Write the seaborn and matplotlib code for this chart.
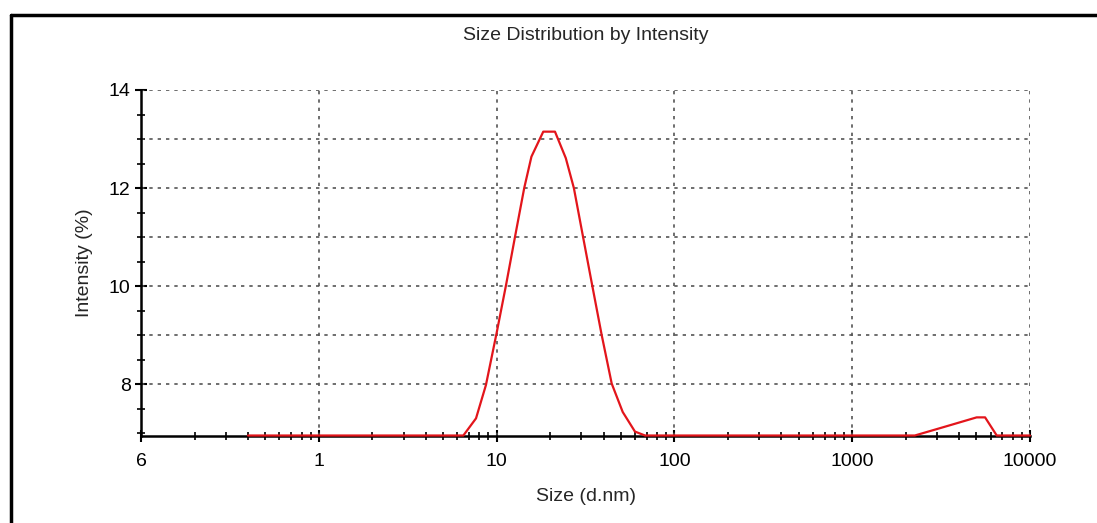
import numpy as np
import pandas as pd
import matplotlib
matplotlib.use('Agg')
import matplotlib.pyplot as plt
import seaborn as sns
from matplotlib.ticker import LogLocator, FixedLocator, MultipleLocator, FixedFormatter
from matplotlib.lines import Line2D

# valori (marimea in d.nm, intensitatea in %)
size_nm = [0.4, 6.5, 7.66, 8.71, 10.0, 11.3, 12.7, 14.3, 15.7, 18.3, 21.3, 24.5, 27.2,
           30.5, 34.3, 39.0, 44.4, 51.2, 60.0, 68.4, 2250, 3550, 5010, 5590, 6500, 10000]
intensity = [6.95, 6.95, 7.30, 7.98, 9.04, 10.02, 11.01, 12.0, 12.64, 13.15, 13.15, 12.61, 12.0,
             11.04, 10.06, 9.0, 8.01, 7.43, 7.03, 6.95, 6.95, 7.16, 7.32, 7.32, 6.95, 6.95]

x_ticks = [0.1, 1, 10, 100, 1000, 10000]
x_labels = ['6', '1', '10', '100', '1000', '10000']
y_ticks = [8, 10, 12, 14]
y_labels = ['8', '10', '12', '14']

bd = pd.DataFrame({'size': size_nm, 'intensity': intensity})

sns.set_style('white')
plt.rcParams['font.family'] = ['Liberation Sans', 'DejaVu Sans']

fig = plt.figure(figsize=(10.97, 5.23), dpi=100)
ax = fig.add_axes([141 / 1097, 1 - 436 / 523, (1030 - 141) / 1097, (436 - 90) / 523])

sns.lineplot(data=bd, x='size', y='intensity', color='#e3151b', linewidth=1.6,
             ax=ax, zorder=5, clip_on=False)

ax.set_xscale('log')
ax.set_xlim(0.1, 10000)
ax.set_ylim(6.94, 14)

ax.xaxis.set_major_locator(FixedLocator(x_ticks))
ax.xaxis.set_major_formatter(FixedFormatter(x_labels))
ax.xaxis.set_minor_locator(LogLocator(base=10, subs=np.arange(2, 10)))
ax.xaxis.set_minor_formatter(plt.NullFormatter())
ax.yaxis.set_major_locator(FixedLocator(y_ticks))
ax.yaxis.set_major_formatter(FixedFormatter(y_labels))
ax.yaxis.set_minor_locator(MultipleLocator(0.5))

ax.tick_params(axis='both', which='both', bottom=True, left=True, top=False, right=False)
ax.tick_params(axis='both', which='major', direction='inout', length=9, width=1.5,
               labelsize=14, colors='black')
ax.tick_params(axis='x', which='major', pad=8)
ax.tick_params(axis='y', which='major', pad=3)
ax.tick_params(axis='both', which='minor', direction='inout', length=6, width=1.2,
               colors='black')

# grila punctata
for v in x_ticks[1:]:
    ax.axvline(v, color='#555555', linestyle=(0, (2, 3)), linewidth=1.2, zorder=1)
for v in range(8, 15):
    ax.axhline(v, color='#555555', linestyle=(0, (2, 3)), linewidth=1.2, zorder=1)

for s in ['top', 'right']:
    ax.spines[s].set_visible(False)
for s in ['left', 'bottom']:
    ax.spines[s].set_linewidth(1.8)
    ax.spines[s].set_color('black')

ax.set_xlabel('Size (d.nm)', fontsize=14, labelpad=13)
ax.set_ylabel('Intensity (%)', fontsize=14, labelpad=11)
ax.set_title('Size Distribution by Intensity', fontsize=14, pad=36)

# chenarul figurii
fig.add_artist(Line2D([11 / 1097, 11 / 1097], [0, 1 - 15 / 523], color='black', linewidth=2.5,
                      transform=fig.transFigure))
fig.add_artist(Line2D([11 / 1097, 1], [1 - 15 / 523, 1 - 15 / 523], color='black', linewidth=2.5,
                      transform=fig.transFigure))

fig.savefig('out.png', dpi=100)
